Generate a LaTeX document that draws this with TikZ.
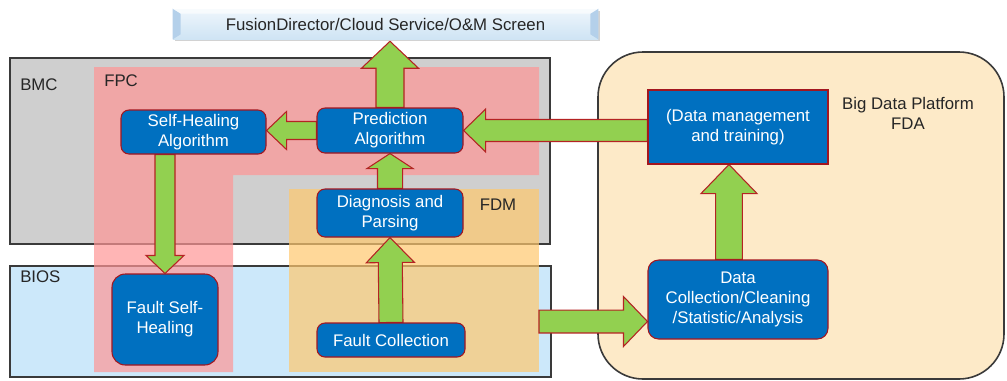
\documentclass[tikz,border=0pt]{standalone}
\usepackage{fontspec}
\setmainfont{Liberation Sans}
\usetikzlibrary{calc,shadows}
\pgfdeclarelayer{bg}
\pgfdeclarelayer{arr}
\pgfsetlayers{bg,arr,main}
\definecolor{boxblue}{HTML}{0070C0}
\definecolor{boxedge}{HTML}{A3161F}
\definecolor{agreen}{HTML}{92D050}
\definecolor{aedge}{HTML}{B42323}
\definecolor{bmcgray}{HTML}{CFCFCF}
\definecolor{biosblue}{HTML}{CCE8FA}
\definecolor{fpcpink}{RGB}{255,150,150}
\definecolor{fdmorange}{RGB}{255,200,110}
\definecolor{fdapeach}{HTML}{FDEAC8}
\definecolor{framegray}{HTML}{3A3A3A}
\definecolor{labeltext}{HTML}{262626}
\definecolor{bannertop}{HTML}{EEF6FC}
\definecolor{bannerbot}{HTML}{CFE4F4}
\definecolor{bannerside}{HTML}{B4D0EA}
\newcommand{\blockarrow}[5]{%
  \coordinate (ba-h) at ($(#2)!#5!(#1)$);
  \draw[garrow] ($(#1)!#3!90:(#2)$) -- ($(ba-h)!#3!90:(#2)$) -- ($(ba-h)!#4!90:(#2)$) -- (#2) -- ($(ba-h)!#4!-90:(#2)$) -- ($(ba-h)!#3!-90:(#2)$) -- ($(#1)!#3!-90:(#2)$) -- cycle;}
\begin{document}
\begin{tikzpicture}[x=0.75pt,y=-0.75pt,
  blk/.style={draw=boxedge, line width=0.8pt, fill=boxblue, text=white, align=center, inner sep=0pt, font=\fontsize{12.6}{15}\selectfont, rounded corners=6pt},
  garrow/.style={draw=aedge, line width=0.8pt, fill=agreen, line join=miter},
  region/.style={draw=framegray, line width=1.2pt},
  lbl/.style={text=labeltext, font=\fontsize{12.6}{15}\selectfont, inner sep=0pt, align=center},
  banner/.style={top color=bannertop, bottom color=bannerbot, draw=none, text=labeltext, inner sep=0pt, font=\fontsize{12.6}{15}\selectfont, minimum width=318.75pt, minimum height=22.5pt, drop shadow={shadow xshift=1.5pt, shadow yshift=-1.5pt, fill=black!35, opacity=0.5}}]
\useasboundingbox (0,0) rectangle (1007,380);
% regions
\begin{pgfonlayer}{bg}
\begin{scope}
\clip (0,0) rectangle (1007,380);
\draw[region, fill=fdapeach, rounded corners=33.75pt] (598,52) rectangle (1004,379);
\end{scope}
\draw[region, fill=bmcgray] (10,58) rectangle (550,244);
\draw[region, fill=biosblue] (10,266) rectangle (551,377);
\fill[fpcpink, opacity=0.7] (94,67) -- (539,67) -- (539,175) -- (233,175) -- (233,372) -- (94,372) -- cycle;
\fill[fdmorange, opacity=0.7] (289,189) rectangle (539,372);
\end{pgfonlayer}
% labels
\node[lbl, anchor=west] (bmcl) at (20,85) {BMC};
\node[lbl, anchor=west] (biosl) at (20,277) {BIOS};
\node[lbl, anchor=west] (fpcl) at (104,81) {FPC};
\node[lbl] (fdml) at (498,205) {FDM};
\node[lbl] (fdal) at (908,113) {Big Data Platform\\FDA};
% banner
\node[banner] (scr) at (385.5,24) {FusionDirector/Cloud Service/O\&M Screen};
\fill[bannerside] (scr.north west) -- ++(8,5) -- ($(scr.south west)+(8,-5)$) -- (scr.south west) -- cycle;
\fill[bannerside] (scr.north east) -- ++(-8,5) -- ($(scr.south east)+(-8,-5)$) -- (scr.south east) -- cycle;
\fill[white, opacity=0.6] (scr.north west) -- (scr.north east) -- ++(-8,5) -- ($(scr.north west)+(8,5)$) -- cycle;
% boxes
\path (193.5,132) node[blk, minimum width=108.75pt, minimum height=33pt] (sha) {Self-Healing\\Algorithm};
\path (390,130.5) node[blk, minimum width=109.5pt, minimum height=33.75pt] (pred) {Prediction\\Algorithm};
\path (390,213) node[blk, minimum width=109.5pt, minimum height=36pt] (diag) {Diagnosis and\\Parsing};
\path (391,340) node[blk, minimum width=111pt, minimum height=25.5pt] (fc) {Fault Collection};
\path (165,319.5) node[blk, minimum width=79.5pt, minimum height=68.25pt, rounded corners=10pt] (fsh) {Fault Self-\\Healing};
\path (738,127) node[blk, minimum width=135pt, minimum height=55.5pt, sharp corners] (dm) {(Data management\\and training)};
\path (738,299.5) node[blk, minimum width=135pt, minimum height=59.25pt, rounded corners=8pt] (dc) {Data\\Collection/Cleaning\\/Statistic/Analysis};
% arrow anchor coordinates
\coordinate (scrTip) at ($(pred.north |- scr.south)+(0,2)$);
\coordinate (shaTip) at (pred.west -| sha.east);
\coordinate (dmL) at (pred.east -| dm.west);
\coordinate (shaDn) at (sha.south -| fsh.north);
\coordinate (fdmR) at (539,321.5);
\coordinate (dcTip) at (fdmR -| dc.west);
\coordinate (dcUp) at ($(dc.north)+(-9,0)$);
\coordinate (dmDn) at ($(dm.south)+(-9,0)$);
% arrows
\begin{pgfonlayer}{arr}
\blockarrow{pred.north}{scrTip}{10.5pt}{21.4pt}{20.25pt}
\blockarrow{pred.west}{shaTip}{6.75pt}{14.25pt}{15pt}
\blockarrow{dmL}{pred.east}{8.25pt}{16pt}{16.5pt}
\blockarrow{diag.north}{pred.south}{9.4pt}{17.25pt}{11.25pt}
\blockarrow{fc.north}{diag.south}{9pt}{18pt}{18.75pt}
\blockarrow{shaDn}{fsh.north}{7.5pt}{14.25pt}{13.5pt}
\blockarrow{fdmR}{dcTip}{8.6pt}{18.75pt}{18pt}
\blockarrow{dcUp}{dmDn}{10pt}{21pt}{21.75pt}
\end{pgfonlayer}
\end{tikzpicture}
\end{document}
